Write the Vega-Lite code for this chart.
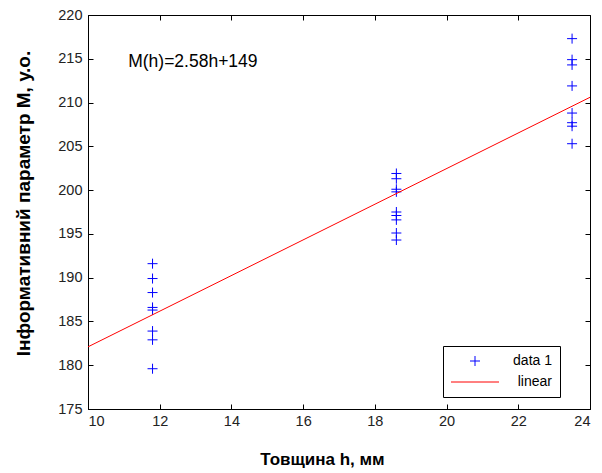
{
  "$schema": "https://vega.github.io/schema/vega-lite/v6.json",
  "width": 502,
  "height": 394,
  "autosize": "none",
  "padding": {"left": 88, "top": 15, "right": 12, "bottom": 64},
  "background": "white",
  "config": {
    "font": "Liberation Sans",
    "view": {"stroke": "black", "strokeWidth": 1},
    "axis": {
      "domainColor": "black",
      "tickColor": "black",
      "labelColor": "#222",
      "labelFont": "Liberation Sans",
      "labelFontSize": 14.5,
      "titleFont": "Liberation Sans",
      "titleFontSize": 17,
      "titleFontWeight": "bold",
      "titleColor": "black",
      "grid": false,
      "tickSize": -5
    }
  },
  "datasets": {
    "pts": [
      {"h": 11.8, "M": 191.6, "series": "data 1"},
      {"h": 11.8, "M": 189.9, "series": "data 1"},
      {"h": 11.8, "M": 188.3, "series": "data 1"},
      {"h": 11.8, "M": 186.6, "series": "data 1"},
      {"h": 11.8, "M": 186.3, "series": "data 1"},
      {"h": 11.8, "M": 183.9, "series": "data 1"},
      {"h": 11.8, "M": 182.9, "series": "data 1"},
      {"h": 11.8, "M": 179.6, "series": "data 1"},
      {"h": 18.6, "M": 201.9, "series": "data 1"},
      {"h": 18.6, "M": 201.3, "series": "data 1"},
      {"h": 18.6, "M": 200.1, "series": "data 1"},
      {"h": 18.6, "M": 199.8, "series": "data 1"},
      {"h": 18.6, "M": 197.5, "series": "data 1"},
      {"h": 18.6, "M": 197.1, "series": "data 1"},
      {"h": 18.6, "M": 196.6, "series": "data 1"},
      {"h": 18.6, "M": 195.1, "series": "data 1"},
      {"h": 18.6, "M": 194.3, "series": "data 1"},
      {"h": 23.5, "M": 217.3, "series": "data 1"},
      {"h": 23.5, "M": 214.9, "series": "data 1"},
      {"h": 23.5, "M": 214.3, "series": "data 1"},
      {"h": 23.5, "M": 211.9, "series": "data 1"},
      {"h": 23.5, "M": 208.8, "series": "data 1"},
      {"h": 23.5, "M": 207.7, "series": "data 1"},
      {"h": 23.5, "M": 207.3, "series": "data 1"},
      {"h": 23.5, "M": 205.3, "series": "data 1"}
    ],
    "fit": [
      {"h": 10, "M": 182.1, "series": "linear"},
      {"h": 24, "M": 210.6, "series": "linear"}
    ],
    "note": [
      {"h": 11.12, "M": 214.6, "label": "M(h)=2.58h+149"}
    ]
  },
  "layer": [
    {
      "data": {"name": "pts"},
      "mark": {"type": "point", "filled": false, "size": 100, "strokeWidth": 1, "opacity": 1},
      "encoding": {
        "x": {"field": "h", "type": "quantitative", "scale": {"domain": [10, 24], "nice": false, "zero": false},
              "axis": {"title": "Товщина h, мм", "values": [10, 12, 14, 16, 18, 20, 22, 24], "labelPadding": 10,
                       "titleAnchor": "middle", "titleX": 234, "titleY": 42, "titleBaseline": "top"}},
        "y": {"field": "M", "type": "quantitative", "scale": {"domain": [175, 220], "nice": false, "zero": false},
              "axis": {"title": "Інформативний параметр М, у.о.", "values": [175, 180, 185, 190, 195, 200, 205, 210, 215, 220], "labelPadding": 11,
                       "titleFontSize": 19, "titleAnchor": "middle", "titleX": -65, "titleY": 188, "titleBaseline": "middle", "titleAngle": -90}},
        "color": {"field": "series", "type": "nominal",
                  "scale": {"domain": ["data 1", "linear"], "range": ["#0000ff", "#ff0000"]},
                  "legend": {"title": null, "orient": "none", "legendX": 355, "legendY": 331,
                             "strokeColor": "black", "fillColor": "white", "padding": 8,
                             "labelFontSize": 14, "labelColor": "black", "symbolSize": 100, "symbolStrokeWidth": 1,
                             "rowPadding": 7, "symbolOffset": 17, "labelOffset": 70, "labelAlign": "right"}},
        "shape": {"field": "series", "type": "nominal",
                  "scale": {"domain": ["data 1", "linear"], "range": ["M-1,0L1,0M0,-1L0,1", "M-4.8,0L4.8,0"]},
                  "legend": {"title": null, "orient": "none", "legendX": 355, "legendY": 331,
                             "strokeColor": "black", "fillColor": "white", "padding": 8,
                             "labelFontSize": 14, "labelColor": "black", "symbolSize": 100, "symbolStrokeWidth": 1,
                             "rowPadding": 7, "symbolOffset": 17, "labelOffset": 70, "labelAlign": "right"}}
      }
    },
    {
      "data": {"name": "fit"},
      "mark": {"type": "line", "strokeWidth": 1, "clip": true},
      "encoding": {
        "x": {"field": "h", "type": "quantitative", "axis": null},
        "y": {"field": "M", "type": "quantitative", "axis": null},
        "color": {"field": "series", "type": "nominal", "legend": null}
      }
    },
    {
      "data": {"name": "note"},
      "mark": {"type": "text", "align": "left", "baseline": "middle", "fontSize": 17.5, "font": "Liberation Sans", "color": "black"},
      "encoding": {
        "x": {"field": "h", "type": "quantitative", "axis": null},
        "y": {"field": "M", "type": "quantitative", "axis": null},
        "text": {"field": "label"}
      }
    },
    {
      "data": {"name": "fit"},
      "mark": {"type": "point", "opacity": 0},
      "encoding": {
        "x": {"field": "h", "type": "quantitative",
              "axis": {"orient": "top", "labels": false, "title": null, "domain": false, "values": [10, 12, 14, 16, 18, 20, 22, 24]}},
        "y": {"field": "M", "type": "quantitative",
              "axis": {"orient": "right", "labels": false, "title": null, "domain": false, "values": [175, 180, 185, 190, 195, 200, 205, 210, 215, 220]}}
      }
    }
  ],
  "resolve": {"axis": {"x": "independent", "y": "independent"}}
}
